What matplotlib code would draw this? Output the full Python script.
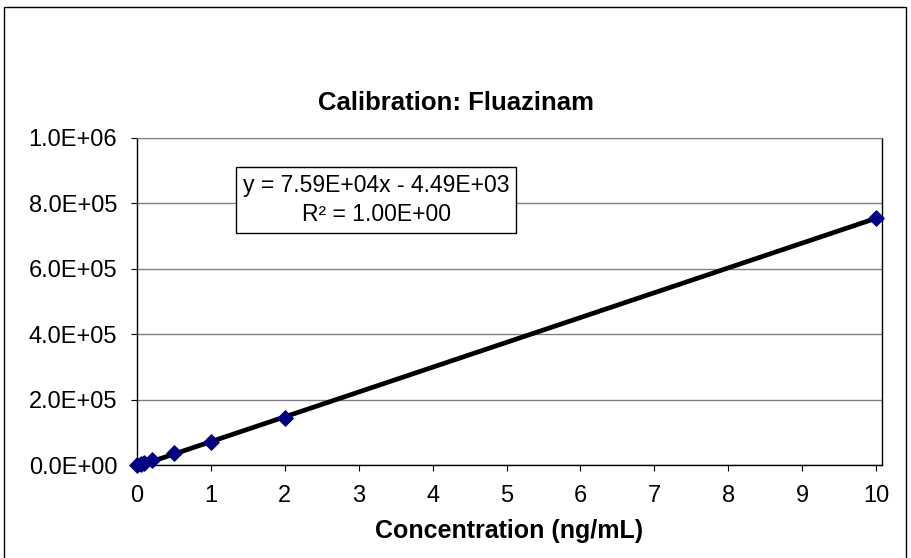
"""Calibration curve for Fluazinam, Excel-style scatter with linear trendline."""

import matplotlib

matplotlib.use("Agg")
import matplotlib.pyplot as plt
import numpy as np
from matplotlib.patches import Rectangle
from matplotlib.ticker import FuncFormatter

plt.rcParams["font.family"] = ["Liberation Sans", "DejaVu Sans"]

conc = [0.0, 0.05, 0.1, 0.2, 0.5, 1.0, 2.0, 10.0]
response = [500, 3000, 6500, 14000, 36000, 70000, 144000, 755000]
slope = 7.59e4
intercept = -4.49e3
eq_text = "y = 7.59E+04x - 4.49E+03\nR² = 1.00E+00"

fig = plt.figure(figsize=(9.12, 5.58), dpi=100)
ax = fig.add_axes([137 / 912, 1 - 465 / 558, (882 - 137) / 912, (465 - 138) / 558])

xs = np.array([min(conc), max(conc)])
ax.plot(xs, slope * xs + intercept, color="black", lw=3.4, zorder=2, solid_capstyle="butt")
ax.scatter(conc, response, marker="D", s=60, color="#000080", zorder=3, clip_on=False)

ax.set_xlim(0, 10.08)
ax.set_ylim(0, 1.0e6)
ax.set_xticks(range(0, 11))
ax.set_yticks(np.arange(0, 1.0e6 + 1, 2.0e5))
ax.yaxis.set_major_formatter(FuncFormatter(lambda v, _: "%.1E" % v))
ax.tick_params(axis="both", labelsize=17, direction="out", length=4.3, color="black")
ax.tick_params(axis="y", pad=10)
ax.tick_params(axis="x", pad=10)
ax.grid(axis="y", color="#808080", lw=1)
ax.set_axisbelow(True)
for side in ("left", "bottom", "right"):
    ax.spines[side].set_color("black")
    ax.spines[side].set_linewidth(1)
ax.spines["top"].set_color("#808080")

ax.text(0.321, 0.81, eq_text, transform=ax.transAxes, ha="center", va="center",
        fontsize=16.5, linespacing=1.35,
        bbox=dict(boxstyle="square,pad=0.3", fc="white", ec="black", lw=1), zorder=4)

fig.text(456 / 912, 1 - 103 / 558, "Calibration: Fluazinam", ha="center", va="center",
         fontsize=18.5, fontweight="bold")
ax.set_xlabel("Concentration (ng/mL)", fontsize=18, fontweight="bold", labelpad=9)

fig.patches.append(Rectangle((4 / 912, -0.02), 902 / 912, 1 - 7 / 558 + 0.02,
                             transform=fig.transFigure, fill=False, ec="black", lw=1))

fig.savefig("out.png", dpi=100)
